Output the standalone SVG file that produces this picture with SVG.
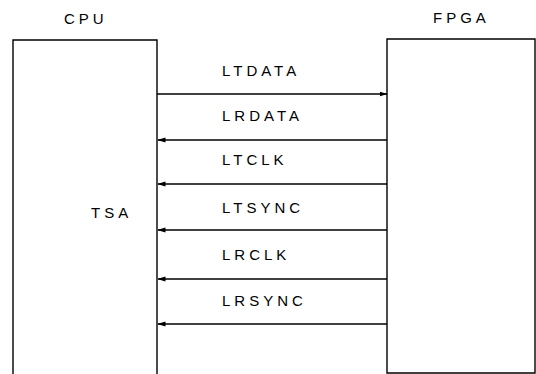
<svg xmlns="http://www.w3.org/2000/svg" width="536" height="374" viewBox="0 0 536 374">
<style>
.box{fill:#fff;stroke:#000;stroke-width:1.4}
.t{font-family:"Liberation Sans",Arial,sans-serif;font-size:15px;letter-spacing:4px;fill:#000}
.c{stroke:#000;stroke-width:1.4;fill:none}
</style>
<defs>
<marker id="ah" markerWidth="8" markerHeight="6" refX="7.5" refY="3" orient="auto" markerUnits="userSpaceOnUse">
<path d="M0,0.5 L8,3 L0,5.5 Z" fill="#000"/>
</marker>
</defs>
<rect width="536" height="374" fill="#fff"/>
<g id="cpu">
<path class="box" d="M13,376 V40 H157 V376"/>
<text class="t" x="64" y="24">CPU</text>
<text class="t" x="91" y="218">TSA</text>
</g>
<g id="fpga">
<path class="box" d="M387,373 V39 H535 V373 Z"/>
<text class="t" x="433" y="23">FPGA</text>
</g>
<g id="connectors">
<line class="c" x1="157" y1="94" x2="387" y2="94" marker-end="url(#ah)"/>
<line class="c" x1="387" y1="140" x2="158" y2="140" marker-end="url(#ah)"/>
<line class="c" x1="387" y1="184" x2="158" y2="184" marker-end="url(#ah)"/>
<line class="c" x1="387" y1="230" x2="158" y2="230" marker-end="url(#ah)"/>
<line class="c" x1="387" y1="279" x2="158" y2="279" marker-end="url(#ah)"/>
<line class="c" x1="387" y1="324" x2="158" y2="324" marker-end="url(#ah)"/>
</g>
<g id="labels">
<text class="t" x="222" y="76">LTDATA</text>
<text class="t" x="222" y="121">LRDATA</text>
<text class="t" x="222" y="165">LTCLK</text>
<text class="t" x="222" y="213">LTSYNC</text>
<text class="t" x="222" y="260">LRCLK</text>
<text class="t" x="222" y="306">LRSYNC</text>
</g>
</svg>
